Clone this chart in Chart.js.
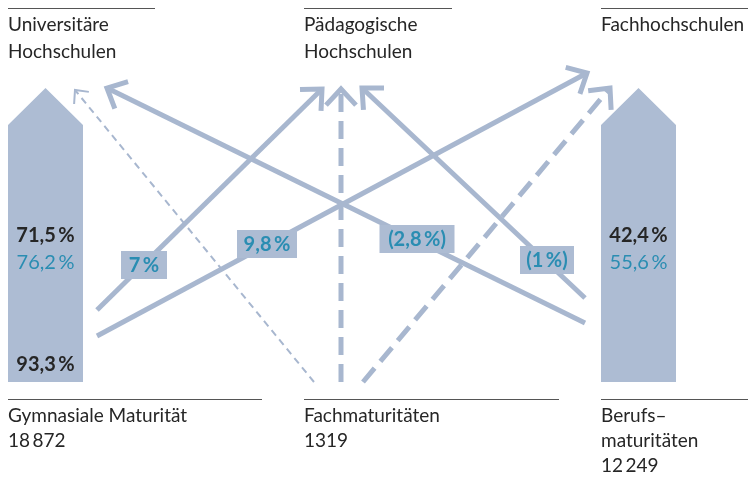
<!DOCTYPE html>
<html>
<head>
<meta charset="utf-8">
<script src="https://cdn.jsdelivr.net/npm/chart.js@4.4.1/dist/chart.umd.min.js"></script>
<style>
  html, body { margin: 0; padding: 0; background: #fff; }
  #wrap { width: 750px; height: 477px; position: relative; }
</style>
</head>
<body>
<div id="wrap"><canvas id="flowChart"></canvas></div>
<script>
// data
const destinations = ['Universitäre\nHochschulen', 'Pädagogische\nHochschulen', 'Fachhochschulen'];
const origins = ['Gymnasiale Maturität', 'Fachmaturitäten', 'Berufs–\nmaturitäten'];
const originCounts = ['18\u2009872', '1319', '12\u2009249'];
const barShareMain = ['71,5\u2009%', '42,4\u2009%'];
const barShareAlt = ['76,2\u2009%', '55,6\u2009%'];
const barShareTotal = ['93,3\u2009%', ''];
const flowFrom = [0, 0, 1, 1, 1, 2, 2];
const flowTo = [1, 2, 0, 1, 2, 0, 1];
const flowLabels = ['7\u2009%', '9,8\u2009%', '', '', '', '(2,8\u2009%)', '(1\u2009%)'];
const flowStyle = ['solid', 'solid', 'thin', 'dash', 'dash', 'solid', 'solid'];

// layout (pixels)
const flowStart = [[97, 310], [97, 336], [314, 382], [341, 382], [363, 382], [585, 323], [585, 298]];
const flowEnd = [[322, 89], [587, 73], [75, 90], [341, 89], [610, 88], [107, 88], [362, 88]];
const labelCenter = [[144, 265], [267, 244], null, null, null, [417, 239], [547, 260]];
const labelWidth = [46, 60, 0, 0, 0, 75, 54];
const bigArrowX = [[8, 83], [601, 676]];
const destX = [8, 304, 601];
const originX = [8, 304, 601];

const LINE = '#a8b7cf';
const BAR = '#adbcd3';
const TEAL = '#2a8db2';
const DARK = '#262626';
const FONT = 'Lato, "Open Sans", sans-serif';

function arrowHead(start, end, len, ang) {
  const a = Math.atan2(start[1] - end[1], start[0] - end[0]);
  return [
    { x: end[0] + len * Math.cos(a + ang), y: end[1] + len * Math.sin(a + ang) },
    { x: end[0], y: end[1] },
    { x: end[0] + len * Math.cos(a - ang), y: end[1] + len * Math.sin(a - ang) }
  ];
}

const datasets = [];

bigArrowX.forEach(function (xs) {
  const mid = (xs[0] + xs[1]) / 2;
  datasets.push({
    data: [
      { x: xs[0], y: 382 }, { x: xs[0], y: 125 }, { x: mid, y: 88 },
      { x: xs[1], y: 125 }, { x: xs[1], y: 382 }, { x: xs[0], y: 382 }
    ],
    showLine: true, borderWidth: 0, borderColor: BAR,
    backgroundColor: BAR, fill: 'shape', pointRadius: 0
  });
});

flowFrom.forEach(function (f, i) {
  const s = flowStyle[i];
  const width = s === 'thin' ? 2 : 5;
  const dash = s === 'thin' ? [7, 5] : (s === 'dash' ? [18, 9] : []);
  datasets.push({
    data: [{ x: flowStart[i][0], y: flowStart[i][1] }, { x: flowEnd[i][0], y: flowEnd[i][1] }],
    showLine: true, borderColor: LINE, borderWidth: width, borderDash: dash,
    borderCapStyle: 'butt', pointRadius: 0, fill: false
  });
  datasets.push({
    data: arrowHead(flowStart[i], flowEnd[i], s === 'thin' ? 14 : 22, 0.75),
    showLine: true, borderColor: LINE, borderWidth: width,
    borderCapStyle: 'butt', borderJoinStyle: 'miter', pointRadius: 0, fill: false
  });
});

const textPlugin = {
  id: 'texts',
  afterDatasetsDraw: function (chart) {
    const ctx = chart.ctx;
    const sx = chart.scales.x, sy = chart.scales.y;
    ctx.save();
    ctx.textBaseline = 'middle';

    // rules
    ctx.strokeStyle = '#555';
    ctx.lineWidth = 1.2;
    [[8, 155], [304, 452], [601, 748]].forEach(function (r) {
      ctx.beginPath(); ctx.moveTo(r[0], 8.5); ctx.lineTo(r[1], 8.5); ctx.stroke();
    });
    [[8, 262], [304, 559], [601, 748]].forEach(function (r) {
      ctx.beginPath(); ctx.moveTo(r[0], 399.5); ctx.lineTo(r[1], 399.5); ctx.stroke();
    });

    ctx.fillStyle = DARK;
    ctx.font = '19px ' + FONT;
    destinations.forEach(function (d, i) {
      d.split('\n').forEach(function (line, k) {
        ctx.fillText(line, destX[i], 25 + k * 27);
      });
    });
    origins.forEach(function (o, i) {
      const lines = o.split('\n').concat([originCounts[i]]);
      lines.forEach(function (line, k) {
        ctx.fillText(line, originX[i], 416 + k * 25);
      });
    });

    // shares in big arrows
    bigArrowX.forEach(function (xs, i) {
      const cx = (xs[0] + xs[1]) / 2;
      ctx.textAlign = 'center';
      ctx.font = 'bold 20px ' + FONT;
      ctx.fillStyle = DARK;
      ctx.fillText(barShareMain[i], cx, 236);
      if (barShareTotal[i]) ctx.fillText(barShareTotal[i], cx, 365);
      ctx.font = '20px ' + FONT;
      ctx.fillStyle = TEAL;
      ctx.fillText(barShareAlt[i], cx, 263);
    });

    // flow labels
    ctx.font = 'bold 20px ' + FONT;
    flowLabels.forEach(function (lab, i) {
      if (!lab) return;
      const c = labelCenter[i];
      const px = sx.getPixelForValue(c[0]), py = sy.getPixelForValue(c[1]);
      const w = labelWidth[i];
      ctx.fillStyle = BAR;
      ctx.fillRect(px - w / 2, py - 14, w, 28);
      ctx.fillStyle = TEAL;
      ctx.textAlign = 'center';
      ctx.fillText(lab, px, py + 1);
    });
    ctx.restore();
  }
};

new Chart(document.getElementById('flowChart').getContext('2d'), {
  type: 'scatter',
  data: { datasets: datasets },
  options: {
    responsive: true,
    maintainAspectRatio: false,
    animation: false,
    layout: { padding: 0 },
    plugins: { legend: { display: false }, tooltip: { enabled: false } },
    scales: {
      x: { type: 'linear', min: 0, max: 750, display: false },
      y: { type: 'linear', min: 0, max: 477, reverse: true, display: false }
    },
    elements: { line: { tension: 0 } }
  },
  plugins: [textPlugin]
});
</script>
</body>
</html>
